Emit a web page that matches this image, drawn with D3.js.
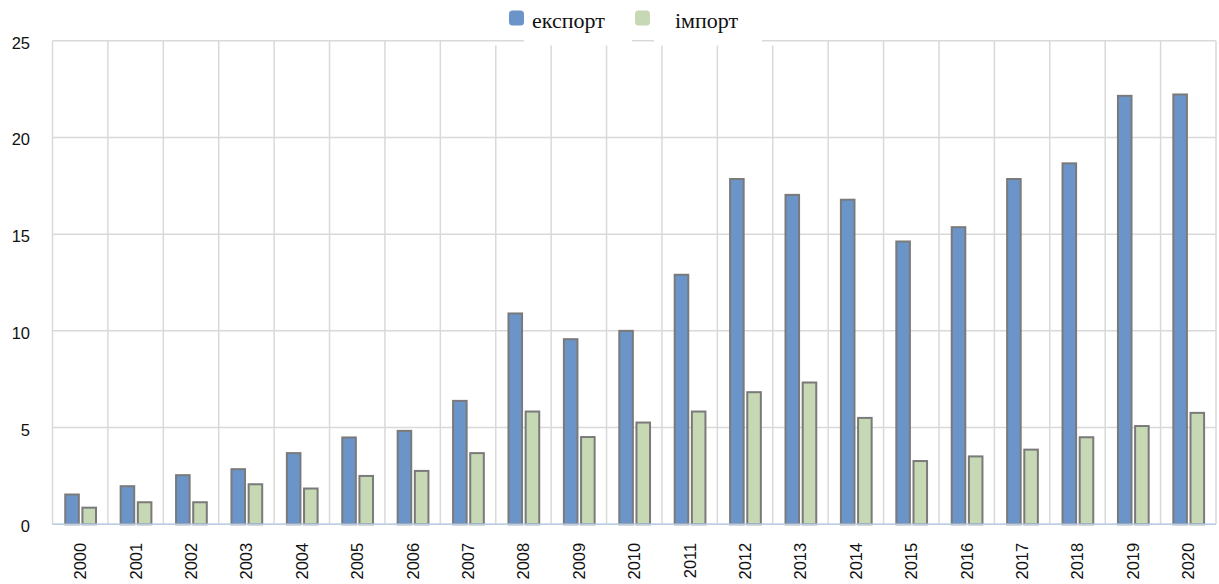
<!DOCTYPE html>
<html>
<head>
<meta charset="utf-8">
<script src="https://cdn.jsdelivr.net/npm/d3@7"></script>
<style>
  html, body { margin: 0; padding: 0; background: #fff; }
  svg { display: block; }
</style>
</head>
<body>
<svg id="chart" width="1219" height="584"></svg>
<script>
// Export / import by year
const years = ["2000","2001","2002","2003","2004","2005","2006","2007","2008","2009","2010",
               "2011","2012","2013","2014","2015","2016","2017","2018","2019","2020"];
const exportValues = [1.54, 1.97, 2.54, 2.85, 3.68, 4.49, 4.83, 6.38, 10.9, 9.57, 10.0,
                      12.9, 17.85, 17.03, 16.78, 14.62, 15.36, 17.85, 18.66, 22.15, 22.22];
const importValues = [0.86, 1.14, 1.14, 2.07, 1.85, 2.5, 2.76, 3.68, 5.83, 4.51, 5.26,
                      5.83, 6.83, 7.33, 5.5, 3.27, 3.51, 3.86, 4.5, 5.08, 5.76];
const seriesNames = ["експорт", "імпорт"];
const yTicks = [0, 5, 10, 15, 20, 25];

const colors = { "експорт": "#6b95c9", "імпорт": "#c6d8b4" };

(function draw() {
  const svg = d3.select("#chart");
  const plotLeft = 52.5, plotRight = 1216, plotTop = 40.7, plotBottom = 524.3;

  const x = d3.scaleBand().domain(years).range([plotLeft, plotRight]).padding(0);
  const y = d3.scaleLinear().domain([0, 25]).range([plotBottom, plotTop]);

  // Horizontal gridlines
  svg.append("g").selectAll("line").data(yTicks).join("line")
    .attr("x1", plotLeft).attr("x2", plotRight)
    .attr("y1", d => y(d)).attr("y2", d => y(d))
    .attr("stroke", "#d9d9d9").attr("stroke-width", 1.5);

  // Vertical category separators
  const edges = years.map(d => x(d)).concat([plotRight]);
  svg.append("g").selectAll("line").data(edges).join("line")
    .attr("x1", d => d).attr("x2", d => d)
    .attr("y1", plotTop).attr("y2", plotBottom)
    .attr("stroke", "#d9d9d9").attr("stroke-width", 1.5);

  // Legend background masks the top of the grid
  svg.append("rect").attr("x", 490).attr("y", 0).attr("width", 285).attr("height", 45.5).attr("fill", "#fff");
  [[490, 524], [632, 654], [762, 775]].forEach(([a, b]) => {
    svg.append("line").attr("x1", a).attr("x2", b).attr("y1", plotTop).attr("y2", plotTop)
      .attr("stroke", "#d9d9d9").attr("stroke-width", 1.5);
  });

  // Bars
  const bw = x.bandwidth();
  const barW = bw * 0.245;
  const offsets = { "експорт": -bw * 0.27, "імпорт": bw * 0.04 };
  const rows = years.map((yr, i) => ({ year: yr, values: [
    { key: seriesNames[0], value: exportValues[i] },
    { key: seriesNames[1], value: importValues[i] }
  ]}));

  const groups = svg.append("g").selectAll("g").data(rows).join("g")
    .attr("transform", d => `translate(${x(d.year) + bw / 2},0)`);
  groups.selectAll("rect").data(d => d.values).join("rect")
    .attr("x", d => offsets[d.key])
    .attr("width", barW)
    .attr("y", d => y(d.value))
    .attr("height", d => y(0) - y(d.value))
    .attr("fill", d => colors[d.key])
    .attr("stroke", "#7a7a7a")
    .attr("stroke-width", 2);

  // Baseline
  svg.append("line").attr("x1", plotLeft).attr("x2", plotRight)
    .attr("y1", plotBottom).attr("y2", plotBottom)
    .attr("stroke", "#b9cde5").attr("stroke-width", 1.5);

  // Y axis labels
  const yAxis = svg.append("g").attr("transform", "translate(30,0)")
    .call(d3.axisLeft(y).tickValues(yTicks).tickSize(0).tickPadding(0).tickFormat(d3.format("d")));
  yAxis.select(".domain").remove();
  yAxis.selectAll("text")
    .attr("font-family", "Liberation Sans, Arial, sans-serif")
    .attr("font-size", 16.5).attr("fill", "#111")
    .attr("dy", "0.45em");

  // X axis labels, rotated
  const xAxis = svg.append("g").attr("transform", `translate(0,${plotBottom})`)
    .call(d3.axisBottom(x).tickSize(0).tickPadding(0));
  xAxis.select(".domain").remove();
  xAxis.selectAll("text")
    .attr("font-family", "Liberation Sans, Arial, sans-serif")
    .attr("font-size", 16.5).attr("fill", "#111")
    .attr("text-anchor", "end")
    .attr("transform", "rotate(-90)")
    .attr("x", -18.5).attr("y", 0).attr("dy", "0.36em");

  // Legend
  const legendItems = [
    { key: seriesNames[0], sx: 509, tx: 532 },
    { key: seriesNames[1], sx: 635, tx: 675 }
  ];
  const lg = svg.append("g");
  legendItems.forEach(it => {
    lg.append("rect").attr("x", it.sx).attr("y", 10.5).attr("width", 15).attr("height", 15)
      .attr("rx", 3.5).attr("fill", colors[it.key]);
    lg.append("text").attr("x", it.tx).attr("y", 27.5)
      .attr("font-family", "Liberation Serif, Times New Roman, serif")
      .attr("font-size", 22).attr("fill", "#111")
      .text(it.key);
  });
})();
</script>
</body>
</html>
